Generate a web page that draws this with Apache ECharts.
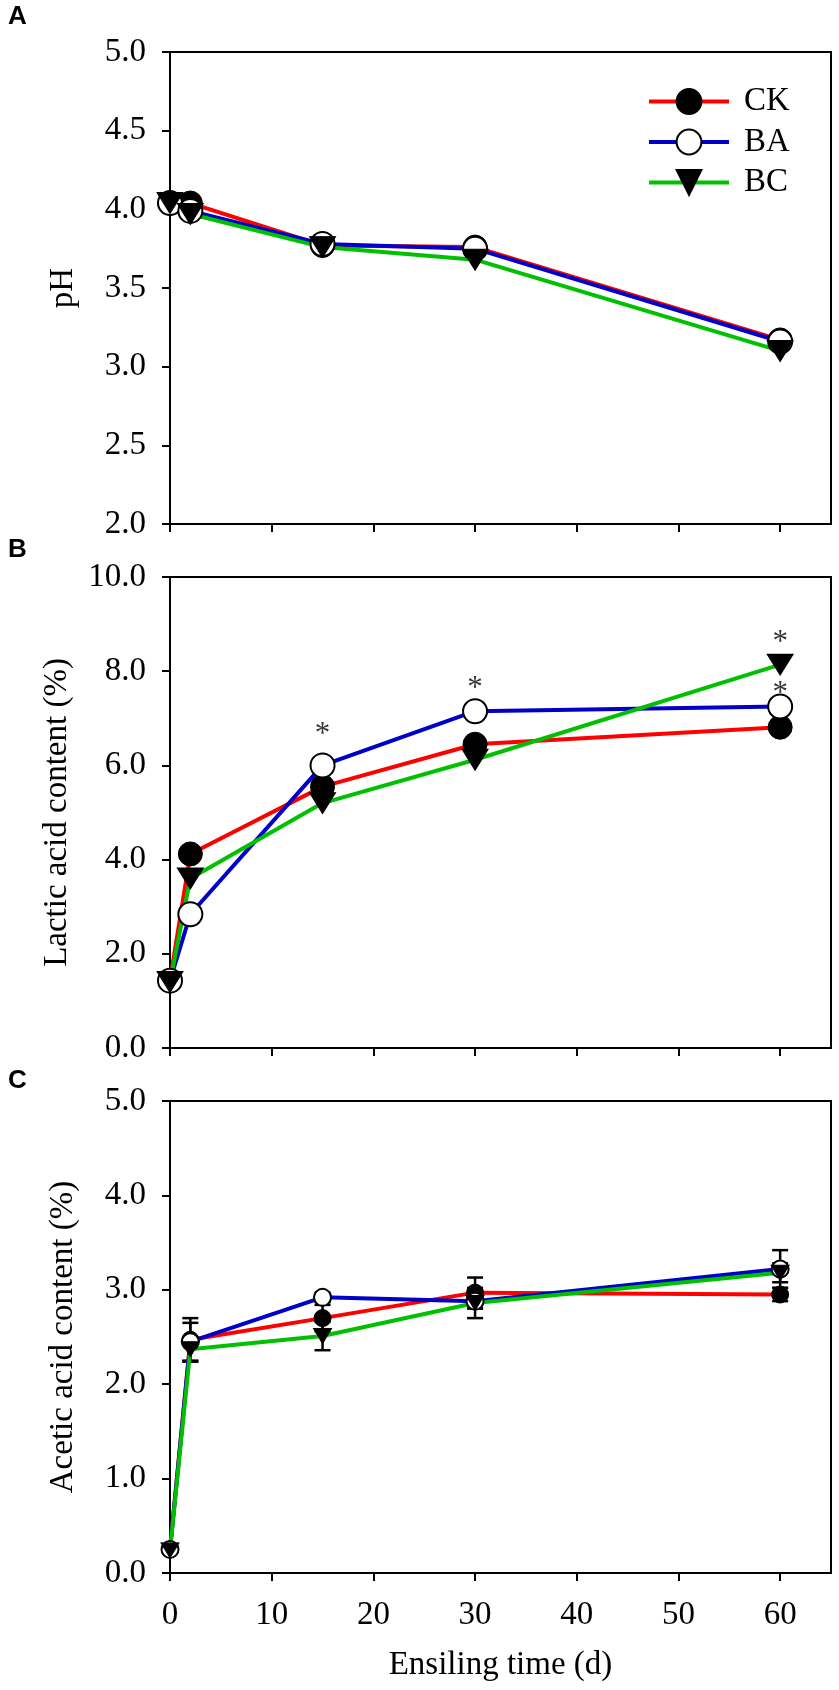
<!DOCTYPE html>
<html><head><meta charset="utf-8">
<script src="https://cdn.jsdelivr.net/npm/echarts@6/dist/echarts.min.js"></script>
<style>html,body{margin:0;padding:0;background:#fff}#c{width:839px;height:1690px}</style>
</head><body><div id="c"></div>
<script>
// ---- data ----
const days = [0, 2, 15, 30, 60];
const groups = ['CK', 'BA', 'BC'];
const xTicks = [0, 10, 20, 30, 40, 50, 60];

// Panel A: pH
const phCK = [4.04, 4.04, 3.77, 3.76, 3.17];
const phBA = [4.04, 3.99, 3.78, 3.75, 3.16];
const phBC = [4.04, 3.97, 3.76, 3.68, 3.10];

// Panel B: lactic acid content (%)
const laCK = [1.43, 4.12, 5.55, 6.45, 6.81];
const laBA = [1.43, 2.84, 6.00, 7.15, 7.25];
const laBC = [1.40, 3.60, 5.20, 6.12, 8.14];
// significance marks (*) in panel B: [day, position]
const laStarDays = [15, 30, 60, 60];
const laStarPos  = [6.79, 7.78, 8.76, 7.67];

// Panel C: acetic acid content (%) with SE
const aaCK = [0.25, 2.47, 2.70, 2.97, 2.95];
const aaBA = [0.25, 2.45, 2.92, 2.88, 3.22];
const aaBC = [0.24, 2.37, 2.51, 2.86, 3.18];
const aaCKerr = [0.03, 0.23, 0.14, 0.16, 0.07];
const aaBAerr = [0.03, 0.20, 0.05, 0.08, 0.20];
const aaBCerr = [0.03, 0.13, 0.15, 0.16, 0.10];

// ---- style ----
const FONT = 'Liberation Serif';
const FS = 33;
const colors = {CK: '#ff0000', BA: '#0000c8', BC: '#00c000'};

const panels = [
  {vals: {CK: phCK, BA: phBA, BC: phBC}, min: 2, max: 5, interval: 0.5, name: 'pH', gap: 90, top: 52, height: 472, sym: 24, tri: [26, 21]},
  {vals: {CK: laCK, BA: laBA, BC: laBC}, min: 0, max: 10, interval: 2, name: 'Lactic acid content (%)', gap: 96, top: 577, height: 471, sym: 24, tri: [26, 21]},
  {vals: {CK: aaCK, BA: aaBA, BC: aaBC}, min: 0, max: 5, interval: 1, name: 'Acetic acid content (%)', gap: 90, top: 1101, height: 472, sym: 17, tri: [18, 15]}
];
const errs = {CK: aaCKerr, BA: aaBAerr, BC: aaBCerr};

const grid = [], xAxis = [], yAxis = [], series = [];
panels.forEach((p, i) => {
  grid.push({left: 170, width: 661, top: p.top, height: p.height, show: true, borderColor: '#000', borderWidth: 2, containLabel: false});
  xAxis.push({
    type: 'value', gridIndex: i, min: 0, max: 65, interval: 10,
    axisLine: {show: true, onZero: false, lineStyle: {color: '#000', width: 2}},
    axisTick: {show: true, inside: false, length: 8, lineStyle: {color: '#000', width: 2}, customValues: xTicks},
    axisLabel: {show: i === 2, margin: 26, fontFamily: FONT, fontSize: FS, color: '#000', customValues: xTicks},
    splitLine: {show: false},
    name: i === 2 ? 'Ensiling time (d)' : '', nameLocation: 'middle', nameGap: 76,
    nameTextStyle: {fontFamily: FONT, fontSize: FS, color: '#000'}
  });
  yAxis.push({
    type: 'value', gridIndex: i, min: p.min, max: p.max, interval: p.interval,
    axisLine: {show: true, onZero: false, lineStyle: {color: '#000', width: 2}},
    axisTick: {show: true, inside: false, length: 8, lineStyle: {color: '#000', width: 2}},
    axisLabel: {margin: 24, fontFamily: FONT, fontSize: FS, color: '#000', formatter: v => v.toFixed(1)},
    splitLine: {show: false},
    name: p.name, nameLocation: 'middle', nameGap: p.gap,
    nameTextStyle: {fontFamily: FONT, fontSize: FS, color: '#000'}
  });
});

// error bars (panel C)
groups.forEach(g => {
  series.push({
    type: 'custom', name: g + ' SE', xAxisIndex: 2, yAxisIndex: 2, z: 2, silent: true,
    data: days.map((d, k) => [d, panels[2].vals[g][k] - errs[g][k], panels[2].vals[g][k] + errs[g][k]]),
    renderItem: (params, api) => {
      const x = api.value(0);
      const a = api.coord([x, api.value(2)]);
      const b = api.coord([x, api.value(1)]);
      const w = 8;
      const st = {stroke: '#000', lineWidth: 2.5};
      return {type: 'group', children: [
        {type: 'line', shape: {x1: a[0], y1: a[1], x2: b[0], y2: b[1]}, style: st},
        {type: 'line', shape: {x1: a[0] - w, y1: a[1], x2: a[0] + w, y2: a[1]}, style: st},
        {type: 'line', shape: {x1: b[0] - w, y1: b[1], x2: b[0] + w, y2: b[1]}, style: st}
      ]};
    }
  });
});

panels.forEach((p, i) => {
  groups.forEach(g => {
    const s = {
      type: 'line', name: g, xAxisIndex: i, yAxisIndex: i, z: 3,
      data: days.map((d, k) => [d, p.vals[g][k]]),
      showSymbol: true, showAllSymbol: true,
      lineStyle: {color: colors[g], width: 4},
      symbol: 'circle', symbolSize: p.sym,
      itemStyle: {color: '#000', borderColor: '#000', borderWidth: 1},
      emphasis: {disabled: true}
    };
    if (g === 'BA') s.itemStyle = {color: '#fff', borderColor: '#000', borderWidth: 2};
    if (g === 'BC') { s.symbol = 'triangle'; s.symbolRotate = 180; s.symbolSize = p.tri; }
    series.push(s);
  });
});

// asterisks in panel B
series.push({
  type: 'scatter', name: 'sig', xAxisIndex: 1, yAxisIndex: 1, z: 5, silent: true,
  symbolSize: 1, itemStyle: {color: 'rgba(0,0,0,0)'},
  data: laStarDays.map((d, k) => [d, laStarPos[k]]),
  label: {show: true, position: 'inside', formatter: '*', fontFamily: FONT, fontSize: 31, color: '#000', offset: [0, 7]}
});

const chart = echarts.init(document.getElementById('c'), null, {renderer: 'canvas'});
chart.setOption({
  animation: false,
  backgroundColor: '#fff',
  grid, xAxis, yAxis, series,
  legend: {
    data: groups, orient: 'vertical', left: 642, top: 80,
    itemWidth: 80, itemHeight: 31, itemGap: 7.5, selectedMode: false,
    lineStyle: {width: 4},
    textStyle: {fontFamily: FONT, fontSize: FS, color: '#000', padding: [0, 0, 0, 10]}
  },
  graphic: [
    {type: 'text', left: 8, top: 4, style: {text: 'A', font: 'bold 26px "Liberation Sans"', fill: '#000'}},
    {type: 'text', left: 8, top: 537, style: {text: 'B', font: 'bold 26px "Liberation Sans"', fill: '#000'}},
    {type: 'text', left: 8, top: 1068, style: {text: 'C', font: 'bold 26px "Liberation Sans"', fill: '#000'}}
  ]
});
</script></body></html>
